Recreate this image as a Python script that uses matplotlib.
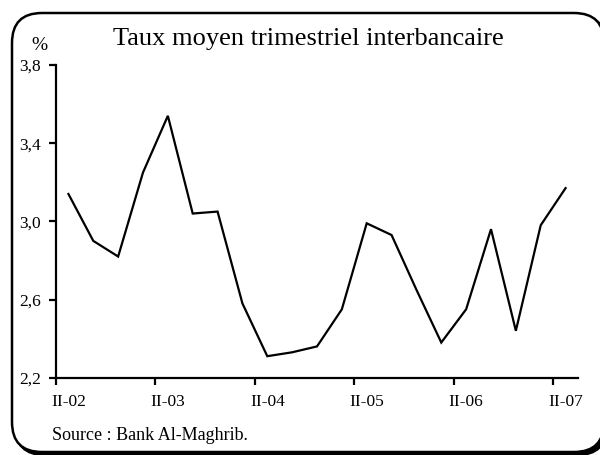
import matplotlib
matplotlib.use("Agg")
import matplotlib.pyplot as plt
from matplotlib.patches import FancyBboxPatch
import numpy as np

plt.rcParams['font.family'] = ['Liberation Serif', 'DejaVu Serif']

title = "Taux moyen trimestriel interbancaire"
unit_label = "%"
source = "Source : Bank Al-Maghrib."
tick_labels = ["II-02", "II-03", "II-04", "II-05", "II-06", "II-07"]
y_ticks = [2.2, 2.6, 3.0, 3.4, 3.8]
y_tick_labels = ["2,2", "2,6", "3,0", "3,4", "3,8"]
rates = [3.14, 2.90, 2.82, 3.25, 3.54, 3.04, 3.05, 2.58, 2.31, 2.33, 2.36,
         2.55, 2.99, 2.93, 2.65, 2.38, 2.55, 2.96, 2.44, 2.98, 3.17]

W, H = 600, 455
fig = plt.figure(figsize=(W / 100, H / 100), dpi=100)

def fx(px):
    return px / W
def fy(py):
    return 1 - py / H

shadow = FancyBboxPatch((fx(15), fy(455)), fx(607) - fx(15), fy(16) - fy(455),
                        boxstyle="round,pad=0,rounding_size=0.05",
                        transform=fig.transFigure, facecolor='black',
                        edgecolor='black', linewidth=1.8, mutation_aspect=W / H,
                        zorder=0)
frame = FancyBboxPatch((fx(12), fy(452)), fx(604) - fx(12), fy(13) - fy(452),
                       boxstyle="round,pad=0,rounding_size=0.05",
                       transform=fig.transFigure, facecolor='white',
                       edgecolor='black', linewidth=1.8, mutation_aspect=W / H,
                       zorder=1)
fig.patches.extend([shadow, frame])

ax = fig.add_axes([fx(56), fy(377.7), fx(578) - fx(56), fy(65) - fy(377.7)])
ax.set_zorder(2)
ax.patch.set_visible(False)

n = len(rates)
x = np.arange(n) + 0.5
ax.plot(x, rates, color='black', linewidth=1.6, solid_joinstyle='miter')

ax.set_xlim(0, n)
ax.set_ylim(y_ticks[0], y_ticks[-1])

for s in ['top', 'right']:
    ax.spines[s].set_visible(False)
for s in ['left', 'bottom']:
    ax.spines[s].set_linewidth(1.6)

ax.set_yticks(y_ticks)
ax.set_yticklabels(y_tick_labels)
ax.tick_params(axis='y', direction='out', length=5, width=1.6, pad=6, labelsize=12.5)

major_x = np.arange(0, n, 4)
ax.set_xticks(major_x)
ax.set_xticklabels([])
ax.set_xticks(major_x + 0.5, minor=True)
ax.set_xticklabels(tick_labels, minor=True)
ax.tick_params(axis='x', which='major', direction='out', length=5, width=1.6)
ax.tick_params(axis='x', which='minor', length=0, pad=12, labelsize=12.5)

fig.text(fx(308), fy(39), title, ha='center', va='center', fontsize=19, zorder=3)
fig.text(fx(39), fy(45), unit_label, ha='center', va='center', fontsize=14, zorder=3)
fig.text(fx(52), fy(435), source, ha='left', va='center', fontsize=13, zorder=3)

fig.savefig("out.png", dpi=100)
